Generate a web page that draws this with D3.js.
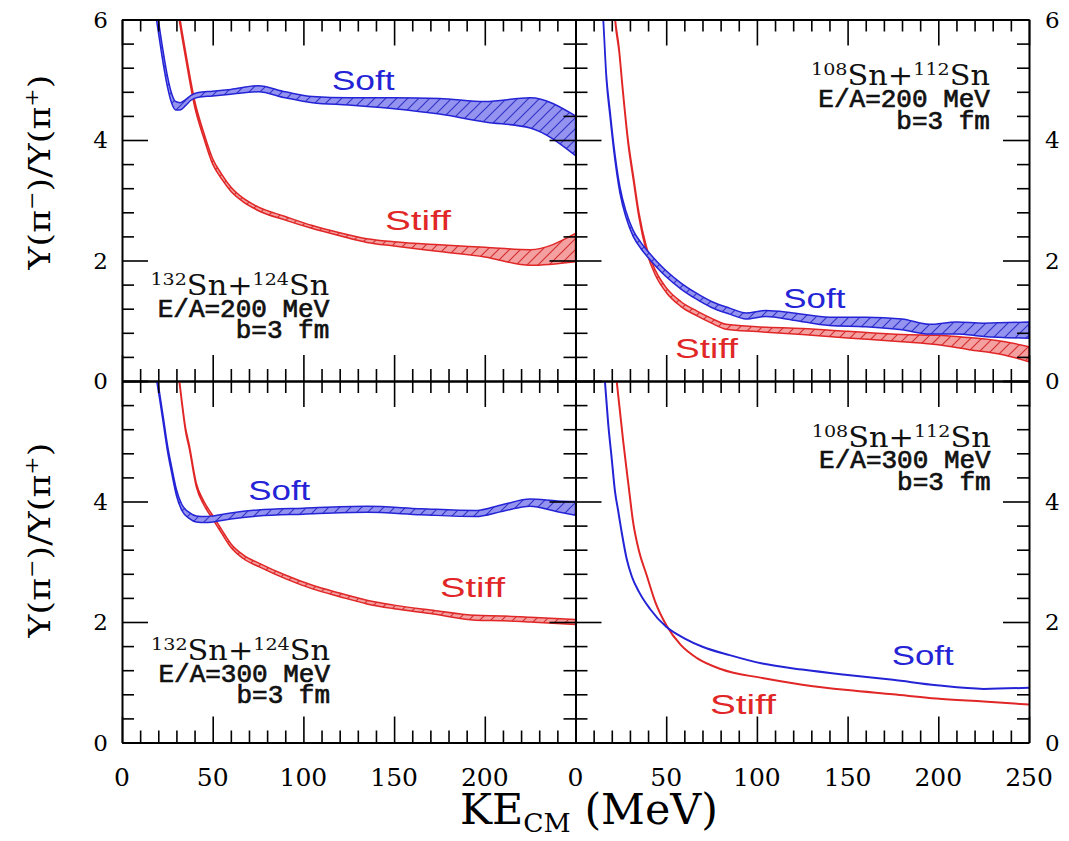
<!DOCTYPE html>
<html>
<head>
<meta charset="utf-8">
<script src="https://cdn.jsdelivr.net/npm/d3@7"></script>
<style>
  body { margin: 0; background: #fff; }
  svg { display: block; }
</style>
</head>
<body>
<svg id="chart" width="1069" height="841"></svg>
<script>
// KE_CM (MeV), lower, upper  -- band series
const softSn132E200 = [[17, 6.40, 6.60], [19, 6.00, 6.20], [20, 5.80, 6.00], [22, 5.40, 5.60], [25, 4.89, 5.07], [27.5, 4.60, 4.76], [29.5, 4.50, 4.64], [32, 4.50, 4.62], [35, 4.57, 4.67], [38, 4.66, 4.74], [42, 4.71, 4.79], [50, 4.73, 4.81], [60, 4.76, 4.84], [75, 4.80, 4.90], [90, 4.70, 4.80], [105, 4.62, 4.72], [125, 4.58, 4.70], [150, 4.52, 4.70], [175, 4.43, 4.69], [200, 4.30, 4.64], [225, 4.20, 4.70], [250, 3.74, 4.40]];
const stiffSn132E200 = [[30, 6.25, 6.35], [31.5, 6.00, 6.10], [33, 5.72, 5.82], [36, 5.20, 5.30], [40, 4.56, 4.66], [45, 4.04, 4.13], [50, 3.60, 3.69], [55, 3.35, 3.43], [60, 3.15, 3.22], [67, 2.97, 3.03], [75, 2.83, 2.89], [90, 2.67, 2.73], [105, 2.53, 2.58], [120, 2.41, 2.46], [135, 2.30, 2.36], [150, 2.24, 2.31], [175, 2.15, 2.26], [200, 2.06, 2.22], [225, 1.92, 2.18], [250, 1.98, 2.45]];
const softSn108E200 = [[14, 6.55, 6.65], [15.3, 5.95, 6.05], [17, 5.00, 5.10], [19, 4.40, 4.50], [21, 3.85, 3.95], [24.5, 3.12, 3.22], [28, 2.70, 2.80], [31.8, 2.40, 2.50], [36, 2.20, 2.30], [40, 2.05, 2.15], [45, 1.88, 1.98], [50, 1.73, 1.83], [58, 1.53, 1.63], [66, 1.37, 1.47], [75, 1.22, 1.32], [85, 1.11, 1.21], [94, 1.03, 1.13], [105, 1.07, 1.17], [120, 1.01, 1.13], [140, 0.92, 1.06], [160, 0.90, 1.06], [180, 0.85, 1.03], [195, 0.78, 0.94], [210, 0.78, 0.98], [225, 0.74, 0.96], [250, 0.71, 0.98]];
const stiffSn108E200 = [[21, 6.26, 6.34], [22, 5.91, 5.99], [24, 5.46, 5.54], [26, 4.81, 4.89], [29, 3.93, 4.01], [31.8, 3.35, 3.43], [35, 2.71, 2.79], [39, 2.16, 2.24], [44, 1.76, 1.84], [50, 1.47, 1.55], [58, 1.24, 1.32], [67, 1.08, 1.16], [75, 0.96, 1.04], [83, 0.86, 0.94], [100, 0.82, 0.90], [125, 0.77, 0.87], [150, 0.715, 0.825], [180, 0.65, 0.77], [200, 0.60, 0.76], [217, 0.52, 0.72], [235, 0.44, 0.66], [250, 0.32, 0.57]];
const softSn132E300 = [[18, 6.25, 6.35], [19.4, 5.95, 6.05], [21, 5.65, 5.75], [23, 5.25, 5.35], [25, 4.85, 4.95], [27.4, 4.47, 4.57], [30, 4.10, 4.20], [33, 3.85, 3.95], [37, 3.72, 3.82], [41, 3.66, 3.76], [46, 3.65, 3.75], [50, 3.66, 3.76], [60, 3.71, 3.81], [75, 3.76, 3.86], [100, 3.79, 3.89], [135, 3.82, 3.92], [165, 3.78, 3.88], [195, 3.75, 3.85], [210, 3.84, 3.95], [225, 3.92, 4.04], [240, 3.83, 4.01], [250, 3.77, 4.00]];
const stiffSn132E300 = [[30, 6.27, 6.33], [31.6, 5.97, 6.03], [33, 5.62, 5.68], [35, 5.17, 5.23], [37, 4.89, 4.95], [41, 4.24, 4.30], [45, 3.95, 4.01], [50, 3.71, 3.77], [55, 3.47, 3.53], [60, 3.24, 3.30], [67, 3.05, 3.11], [76, 2.91, 2.97], [90, 2.72, 2.78], [105, 2.55, 2.61], [120, 2.42, 2.48], [135, 2.30, 2.36], [150, 2.22, 2.28], [170, 2.14, 2.20], [195, 2.03, 2.11], [210, 2.02, 2.10], [225, 2.00, 2.08], [250, 1.96, 2.04]];
// KE_CM (MeV), ratio -- plain lines
const softSn108E300 = [[15, 6.4], [16.2, 6.0], [18, 5.3], [20, 4.7], [21.8, 4.16], [23.5, 3.85], [25.4, 3.5], [28.2, 3.05], [31, 2.76], [35, 2.5], [41, 2.22], [50, 1.92], [60, 1.73], [70, 1.59], [85, 1.45], [103, 1.31], [125, 1.21], [150, 1.12], [175, 1.04], [199, 0.95], [225, 0.89], [250, 0.91]];
const stiffSn108E300 = [[22, 6.2], [22.7, 6.0], [24.5, 5.5], [26.3, 5.0], [29.1, 4.3], [31.8, 3.65], [35, 3.18], [39.2, 2.78], [44, 2.33], [50, 1.95], [58, 1.62], [67, 1.40], [80, 1.22], [103, 1.07], [125, 0.96], [150, 0.87], [175, 0.80], [199, 0.73], [225, 0.68], [250, 0.63]];

const xTicks = [0, 50, 100, 150, 200, 250];
const yTicks = [0, 2, 4, 6];

const blue = '#2424d6', red = '#e02626';

const plotL = 122, plotR = 1029, plotT = 19.5, plotB = 742.5;
const panelW = (plotR - plotL) / 2, panelH = (plotB - plotT) / 2;

const panels = [
  { col: 0, row: 0, soft: softSn132E200, stiff: stiffSn132E200, band: true,
    nuclei: ['132', '124'], energy: '200', labelX: 114.3, labelY: [1.43, 1.07, 0.71],
    softAt: [115.6, 4.83, 63], stiffAt: [145, 2.51, 66] },
  { col: 1, row: 0, soft: softSn108E200, stiff: stiffSn108E200, band: true,
    nuclei: ['108', '112'], energy: '200', labelX: 228.5, labelY: [4.91, 4.55, 4.19],
    softAt: [114.6, 1.21, 62], stiffAt: [54.9, 0.38, 63] },
  { col: 0, row: 1, soft: softSn132E300, stiff: stiffSn132E300, band: true,
    nuclei: ['132', '124'], energy: '300', labelX: 114.7, labelY: [1.37, 1.01, 0.65],
    softAt: [69.6, 4.02, 62], stiffAt: [175.3, 2.42, 65] },
  { col: 1, row: 1, soft: softSn108E300, stiff: stiffSn108E300, band: false,
    nuclei: ['108', '112'], energy: '300', labelX: 228.9, labelY: [4.91, 4.55, 4.19],
    softAt: [174.3, 1.29, 62], stiffAt: [74.1, 0.48, 66] }
];

const svg = d3.select('#chart');
const defs = svg.append('defs');

function hatch(id, bg, line) {
  const s = 11;
  const p = defs.append('pattern').attr('id', id)
    .attr('patternUnits', 'userSpaceOnUse').attr('width', s).attr('height', s);
  p.append('rect').attr('width', s).attr('height', s).attr('fill', bg);
  p.append('path').attr('d', `M0,${s} L${s},0 M-3,3 L3,-3 M${s - 3},${s + 3} L${s + 3},${s - 3}`)
    .attr('stroke', line).attr('stroke-width', 1.2);
}
hatch('hatch-blue', '#9494f0', '#3434c8');
hatch('hatch-red', '#f4a0a0', '#d43030');

// scale a text node horizontally so it spans the given width
function fit(sel, w) {
  const bb = sel.node().getBBox();
  return bb.width ? w / bb.width : 1;
}

panels.forEach((p, i) => {
  const x0 = plotL + p.col * panelW, y0 = plotT + p.row * panelH;
  const x = d3.scaleLinear().domain([0, 250]).range([x0, x0 + panelW]);
  const y = d3.scaleLinear().domain([0, 6]).range([y0 + panelH, y0]);
  const g = svg.append('g');

  defs.append('clipPath').attr('id', `clip${i}`)
    .append('rect').attr('x', x0).attr('y', y0).attr('width', panelW).attr('height', panelH);
  const plot = g.append('g').attr('clip-path', `url(#clip${i})`);

  const series = [[p.stiff, red, 'hatch-red'], [p.soft, blue, 'hatch-blue']];
  series.forEach(([data, colour, pat]) => {
    if (p.band) {
      const area = d3.area().x(d => x(d[0])).y0(d => y(d[1])).y1(d => y(d[2]))
        .curve(d3.curveMonotoneX);
      plot.append('path').datum(data).attr('d', area)
        .attr('fill', `url(#${pat})`).attr('stroke', colour)
        .attr('stroke-width', 1.5).attr('stroke-linejoin', 'round');
    } else {
      const line = d3.line().x(d => x(d[0])).y(d => y(d[1])).curve(d3.curveMonotoneX);
      plot.append('path').datum(data).attr('d', line)
        .attr('fill', 'none').attr('stroke', colour).attr('stroke-width', 2);
    }
  });

  // inward ticks on all four sides
  const minorX = d3.range(0, 251, 10).filter(v => v % 50);
  const minorY = d3.range(1, 15).map(v => v * 0.4).filter(v => Math.abs(v / 2 - Math.round(v / 2)) > 0.01);
  const axes = [
    [d3.axisBottom(x), xTicks, minorX, `translate(0,${y0 + panelH})`],
    [d3.axisTop(x), xTicks, minorX, `translate(0,${y0})`],
    [d3.axisLeft(y), yTicks, minorY, `translate(${x0},0)`],
    [d3.axisRight(y), yTicks, minorY, `translate(${x0 + panelW},0)`]
  ];
  axes.forEach(([ax, major, minor, tr]) => {
    const a = g.append('g').attr('transform', tr)
      .call(ax.tickValues(major).tickSize(-26).tickSizeOuter(0).tickFormat(''));
    a.select('.domain').attr('stroke-width', 2);
    a.selectAll('.tick line').attr('stroke-width', 1.6);
    const b = g.append('g').attr('transform', tr)
      .call(ax.tickValues(minor).tickSize(-12).tickSizeOuter(0).tickFormat(''));
    b.select('.domain').remove();
    b.selectAll('.tick line').attr('stroke-width', 1.6);
  });

  // tick labels on the outside
  if (p.row === 1) {
    const xs = p.col === 0 ? xTicks.slice(0, -1) : xTicks;
    g.selectAll(null).data(xs).join('text')
      .attr('x', d => x(d)).attr('y', 786)
      .attr('text-anchor', 'middle')
      .style('font-family', 'DejaVu Serif').style('font-size', '25px')
      .text(d => d);
  }
  const ys = p.row === 0 ? yTicks : yTicks.slice(0, -1);
  g.selectAll(null).data(ys).join('text')
    .attr('x', p.col === 0 ? x0 - 14 : x0 + panelW + 16)
    .attr('y', d => y(d)).attr('dy', '0.36em')
    .attr('text-anchor', p.col === 0 ? 'end' : 'start')
    .style('font-family', 'DejaVu Serif').style('font-size', '23px')
    .text(d => d);

  // reaction annotation
  const lab = g.append('g').style('fill', '#111');
  const t1 = lab.append('text').attr('text-anchor', 'end')
    .style('font-family', 'DejaVu Serif').style('font-size', '27px');
  t1.append('tspan').text(p.nuclei[0]).style('font-size', '17px').attr('dy', -10);
  t1.append('tspan').text('Sn+').attr('dy', 10);
  t1.append('tspan').text(p.nuclei[1]).style('font-size', '17px').attr('dy', -10);
  t1.append('tspan').text('Sn').attr('dy', 10);
  t1.attr('transform', `translate(${x(p.labelX)},${y(p.labelY[0])}) scale(${fit(t1, 179)},1)`);
  [`E/A=${p.energy} MeV`, 'b=3 fm'].forEach((s, k) => {
    lab.append('text').attr('x', x(p.labelX)).attr('y', y(p.labelY[k + 1]))
      .attr('text-anchor', 'end')
      .style('font-family', 'Liberation Mono').style('font-size', '26px')
      .style('stroke', '#111').style('stroke-width', 0.7)
      .text(s);
  });

  // Soft / Stiff tags
  [['Soft', p.softAt, blue], ['Stiff', p.stiffAt, red]].forEach(([s, at, colour]) => {
    g.append('text').attr('x', x(at[0])).attr('y', y(at[1]))
      .attr('textLength', at[2]).attr('lengthAdjust', 'spacingAndGlyphs')
      .style('font-family', 'Liberation Sans').style('font-size', '27px')
      .style('fill', colour).text(s);
  });
});

// axis titles
const xt = svg.append('text').attr('text-anchor', 'middle')
  .style('font-family', 'DejaVu Serif').style('font-size', '42px');
xt.append('tspan').text('KE');
xt.append('tspan').text('CM').style('font-size', '26px').attr('dy', 8);
xt.append('tspan').text('\u00a0(MeV)').attr('dy', -8);
xt.attr('transform', `translate(589,824) scale(${fit(xt, 258)},1)`);

[172, 540].forEach(cy => {
  const yt = svg.append('text').attr('text-anchor', 'middle')
    .style('font-family', 'DejaVu Serif').style('font-size', '30px');
  yt.append('tspan').text('Y(\u03c0');
  yt.append('tspan').text('\u2212').style('font-size', '19px').attr('dy', -12);
  yt.append('tspan').text(')/Y(\u03c0').attr('dy', 12);
  yt.append('tspan').text('+').style('font-size', '19px').attr('dy', -12);
  yt.append('tspan').text(')').attr('dy', 12);
  yt.attr('transform', `translate(50,${cy}) rotate(-90) scale(${fit(yt, 196)},1)`);
});
</script>
</body>
</html>
